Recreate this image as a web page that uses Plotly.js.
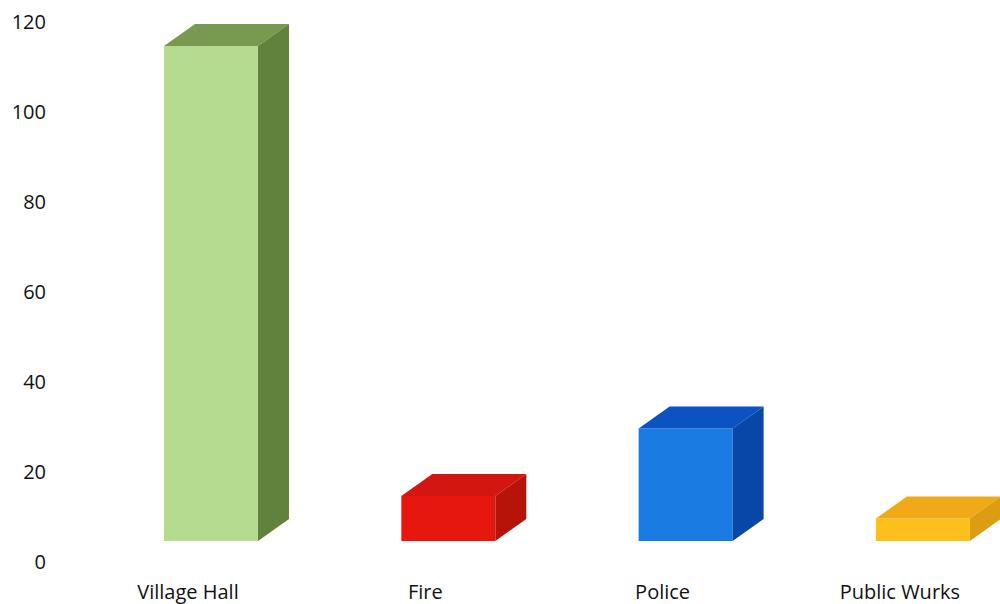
<!DOCTYPE html>
<html>
<head>
<meta charset="utf-8">
<script src="https://cdn.plot.ly/plotly-3.0.1.min.js"></script>
<style>html,body{margin:0;padding:0;background:#fff;}#chart{width:1000px;height:604px;}</style>
</head>
<body>
<div id="chart"></div>
<script>
// Data
var categories = ["Village Hall", "Fire", "Police", "Public Wurks"];
var values = [110, 10, 25, 5];
var frontColors = ["#b3dc90", "#e5170f", "#1a7ce2", "#fdbf1c"];
var topColors = ["#789a50", "#d41610", "#0b52c2", "#f0aa18"];
var sideColors = ["#60823c", "#b81309", "#0847a8", "#dc9d10"];
var yTicks = [0, 20, 40, 60, 80, 100, 120];

// Geometry (in axis units)
var baseOff = 4.67;   // floor of the front faces
var barWidth = 0.396;
var barOffset = -0.101;
var depthX = 0.1306;
var depthY = 4.89;

var xIdx = categories.map(function (c, i) { return i; });
var bases = values.map(function () { return baseOff; });

var shapes = [];
values.forEach(function (v, i) {
  var xl = i + barOffset, xr = xl + barWidth;
  var y0 = baseOff, y1 = baseOff + v;
  shapes.push({
    type: "path", xref: "x", yref: "y", layer: "above",
    path: "M" + xl + "," + y1 + " L" + xr + "," + y1 + " L" + (xr + depthX) + "," + (y1 + depthY) +
          " L" + (xl + depthX) + "," + (y1 + depthY) + " Z",
    fillcolor: topColors[i], line: {width: 0}
  });
  shapes.push({
    type: "path", xref: "x", yref: "y", layer: "above",
    path: "M" + xr + "," + y0 + " L" + (xr + depthX) + "," + (y0 + depthY) + " L" + (xr + depthX) + "," + (y1 + depthY) +
          " L" + xr + "," + y1 + " Z",
    fillcolor: sideColors[i], line: {width: 0}
  });
});

var trace = {
  type: "bar",
  x: xIdx,
  y: values,
  base: bases,
  width: barWidth,
  offset: barOffset,
  marker: {color: frontColors, line: {width: 0}},
  hoverinfo: "none"
};

var layout = {
  width: 1000, height: 604,
  margin: {l: 50, r: 0, t: 10, b: 26},
  paper_bgcolor: "#ffffff", plot_bgcolor: "#ffffff",
  showlegend: false,
  font: {family: "Open Sans, sans-serif", color: "#111111", size: 20},
  xaxis: {
    range: [-0.5815, 3.4218],
    tickvals: xIdx, ticktext: categories,
    showgrid: false, zeroline: false, showline: false, ticks: "",
    tickfont: {size: 20, color: "#111111"}
  },
  yaxis: {
    range: [-3.56, 122.67],
    tickvals: yTicks,
    showgrid: false, zeroline: false, showline: false, ticks: "",
    ticklabelstandoff: 3,
    tickfont: {size: 20, color: "#111111"}
  },
  shapes: shapes
};

Plotly.newPlot("chart", [trace], layout, {displayModeBar: false, staticPlot: true});
</script>
</body>
</html>
